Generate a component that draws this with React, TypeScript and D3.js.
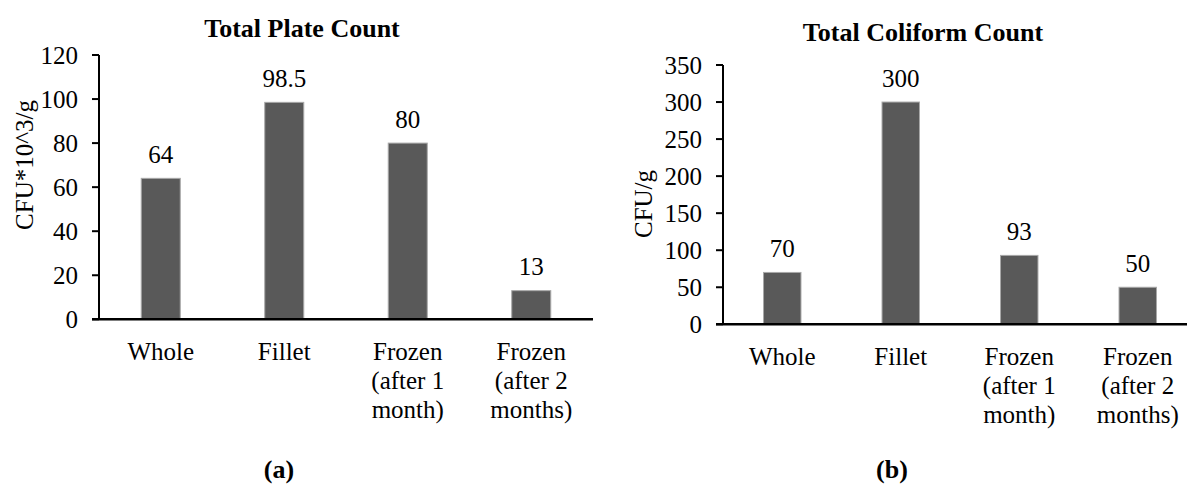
import React from "react";
import * as d3 from "d3";

const categories = ["Whole", "Fillet", "Frozen (after 1 month)", "Frozen (after 2 months)"];
const categoryLines = [["Whole"], ["Fillet"], ["Frozen", "(after 1", "month)"], ["Frozen", "(after 2", "months)"]];
const plateValues = [64, 98.5, 80, 13];
const coliformValues = [70, 300, 93, 50];
const plateTicks = [0, 20, 40, 60, 80, 100, 120];
const coliformTicks = [0, 50, 100, 150, 200, 250, 300, 350];
const plateLabels = ["64", "98.5", "80", "13"];
const coliformLabels = ["70", "300", "93", "50"];

const FONT = "'Liberation Serif', 'Times New Roman', serif";
const FS = 25;

type PanelProps = {
  values: number[];
  labels: string[];
  ticks: number[];
  yMax: number;
  x0: number;
  x1: number;
  yTop: number;
  yBottom: number;
  title: string;
  titleX: number;
  titleY: number;
  yTitle: string;
  yTitleX: number;
  yTitleCY: number;
  panel: string;
  panelX: number;
};

function Panel(p: PanelProps) {
  const x = d3.scaleBand<string>().domain(categories).range([p.x0, p.x1]).paddingInner(0.684).paddingOuter(0.342);
  const y = d3.scaleLinear().domain([0, p.yMax]).range([p.yBottom, p.yTop]);
  return (
    <g>
      <text x={p.titleX} y={p.titleY} textAnchor="middle" fontWeight="bold" fontSize={26} fontFamily={FONT}>{p.title}</text>
      {categories.map((c, i) => (
        <rect key={c} x={x(c)!} y={y(p.values[i])} width={x.bandwidth()} height={y(0) - y(p.values[i])} fill="#595959" stroke="#a8a8a8" strokeWidth={1} />
      ))}
      {categories.map((c, i) => (
        <text key={"l" + c} x={x(c)! + x.bandwidth() / 2} y={y(p.values[i]) - 15.5} textAnchor="middle" fontSize={FS} fontFamily={FONT}>{p.labels[i]}</text>
      ))}
      <line x1={p.x0} x2={p.x0} y1={y(p.yMax)} y2={y(0)} stroke="#000" strokeWidth={2} />
      {p.ticks.map((t) => (
        <g key={t}>
          <line x1={p.x0 - 7} x2={p.x0} y1={y(t)} y2={y(t)} stroke="#000" strokeWidth={2} />
          <text x={p.x0 - 21} y={y(t)} dy="0.34em" textAnchor="end" fontSize={FS} fontFamily={FONT}>{t}</text>
        </g>
      ))}
      <line x1={p.x0 - 7} x2={p.x1} y1={y(0)} y2={y(0)} stroke="#000" strokeWidth={2.5} />
      {categories.map((c, i) => (
        <text key={"x" + c} x={x(c)! + x.bandwidth() / 2} y={y(0) + 41} textAnchor="middle" fontSize={FS} fontFamily={FONT}>
          {categoryLines[i].map((ln, j) => (
            <tspan key={j} x={x(c)! + x.bandwidth() / 2} dy={j === 0 ? 0 : 29}>{ln}</tspan>
          ))}
        </text>
      ))}
      <text transform={`translate(${p.yTitleX},${p.yTitleCY}) rotate(-90)`} textAnchor="middle" fontSize={FS} fontFamily={FONT}>{p.yTitle}</text>
      <text x={p.panelX} y={478} textAnchor="middle" fontWeight="bold" fontSize={26} fontFamily={FONT}>{p.panel}</text>
    </g>
  );
}

export default function App() {
  return (
    <svg width={1187} height={486} style={{ position: "absolute", left: 0, top: 0, background: "#fff" }}>
      <rect width={1187} height={486} fill="#fff" />
      <Panel values={plateValues} labels={plateLabels} ticks={plateTicks} yMax={120} x0={99} x1={593} yTop={55} yBottom={319.3}
        title="Total Plate Count" titleX={302} titleY={37} yTitle="CFU*10^3/g" yTitleX={33} yTitleCY={165} panel="(a)" panelX={279} />
      <Panel values={coliformValues} labels={coliformLabels} ticks={coliformTicks} yMax={350} x0={723} x1={1197} yTop={65} yBottom={324.3}
        title="Total Coliform Count" titleX={923} titleY={41} yTitle="CFU/g" yTitleX={652} yTitleCY={204} panel="(b)" panelX={892} />
    </svg>
  );
}
